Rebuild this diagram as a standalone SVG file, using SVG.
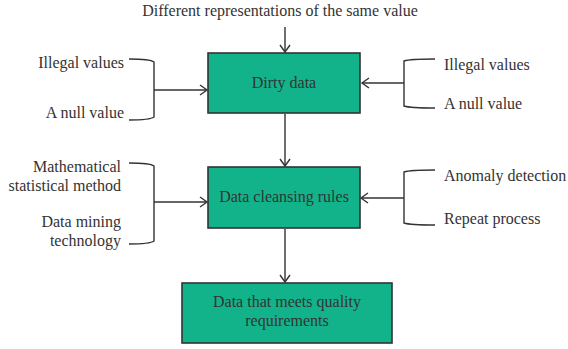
<svg xmlns="http://www.w3.org/2000/svg" width="568" height="349" viewBox="0 0 568 349">
<defs>
<marker id="arr" markerWidth="12" markerHeight="12" refX="10" refY="6" orient="auto" markerUnits="userSpaceOnUse">
<polyline points="3,1 10,6 3,11" fill="none" stroke="#333" stroke-width="1.4"/>
</marker>
</defs>
<style>
text{font-family:"Liberation Serif","Times New Roman",serif;font-size:16px;fill:#333}
.box{fill:#12B38A;stroke:#333;stroke-width:1.6}
.ln{fill:none;stroke:#333;stroke-width:1.4}
.r{text-anchor:end}
.m{text-anchor:middle}
</style>
<rect width="568" height="349" fill="#fff"/>
<g id="connectors">
<line class="ln" x1="285" y1="27" x2="285" y2="52" marker-end="url(#arr)"/>
<line class="ln" x1="285" y1="114" x2="285" y2="166" marker-end="url(#arr)"/>
<line class="ln" x1="285" y1="229" x2="285" y2="282" marker-end="url(#arr)"/>
<path class="ln" d="M129,59 Q150,59 154,62 L154,117 Q150,120 129,120"/>
<line class="ln" x1="154" y1="90" x2="207" y2="90" marker-end="url(#arr)"/>
<path class="ln" d="M435,59 Q410,59 404,61 L404,106 Q410,108 435,108"/>
<line class="ln" x1="404" y1="83" x2="362" y2="83" marker-end="url(#arr)"/>
<path class="ln" d="M129,163 Q150,163 154,166 L154,241 Q150,244 129,244"/>
<line class="ln" x1="154" y1="202" x2="207" y2="202" marker-end="url(#arr)"/>
<path class="ln" d="M435,170 Q410,170 404,172 L404,223 Q410,225 435,225"/>
<line class="ln" x1="404" y1="198" x2="361" y2="198" marker-end="url(#arr)"/>
</g>
<g id="top-label"><text class="m" x="280" y="16">Different representations of the same value</text></g>
<g id="dirty-data">
<rect class="box" x="208" y="53" width="152" height="60"/>
<text class="m" x="284" y="88">Dirty data</text>
</g>
<g id="cleansing-rules">
<rect class="box" x="208" y="167" width="152" height="61"/>
<text class="m" x="284" y="202">Data cleansing rules</text>
</g>
<g id="quality-data">
<rect class="box" x="182" y="283" width="210" height="60"/>
<text class="m" x="287" y="307">Data that meets quality</text>
<text class="m" x="287" y="326">requirements</text>
</g>
<g id="left-1">
<text class="r" x="124" y="68">Illegal values</text>
<text class="r" x="124" y="118">A null value</text>
</g>
<g id="right-1">
<text x="444" y="70">Illegal values</text>
<text x="444" y="109">A null value</text>
</g>
<g id="left-2">
<text class="r" x="121" y="172">Mathematical</text>
<text class="r" x="121" y="191">statistical method</text>
<text class="r" x="121" y="227">Data mining</text>
<text class="r" x="121" y="246">technology</text>
</g>
<g id="right-2">
<text x="444" y="181">Anomaly detection</text>
<text x="444" y="224">Repeat process</text>
</g>
</svg>
